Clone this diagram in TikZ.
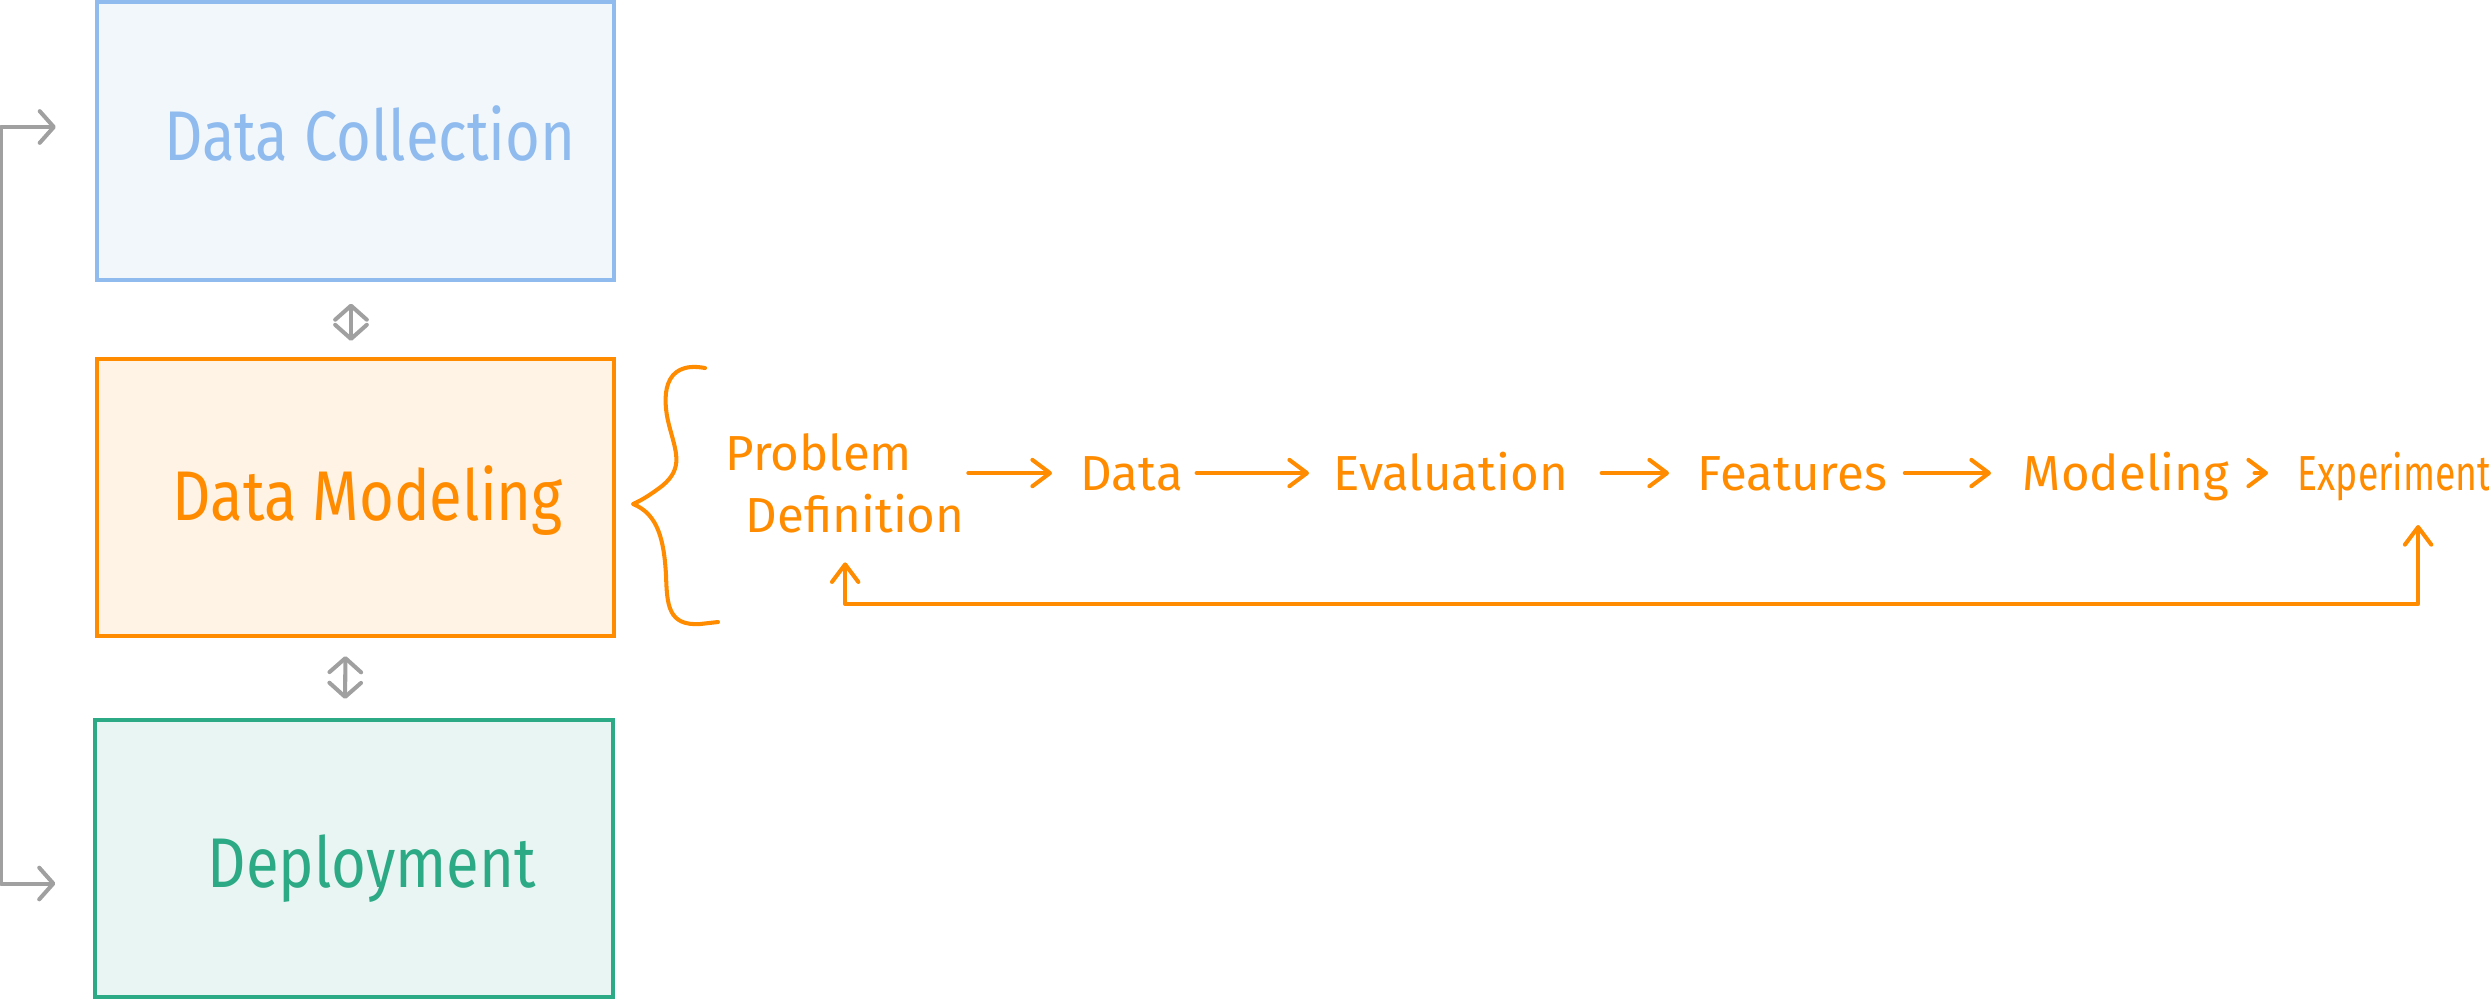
\documentclass[tikz,border=0pt]{standalone}
\usepackage{fontspec}
\setmainfont{Fira Sans}
\newfontfamily\boxfont{Fira Sans}[FakeStretch=0.85]
\newfontfamily\condfont{Fira Sans}[FakeStretch=0.76]
\usetikzlibrary{arrows.meta}
\definecolor{cblue}{RGB}{143,187,239}
\definecolor{cbluefill}{RGB}{242,247,252}
\definecolor{corange}{RGB}{255,140,0}
\definecolor{corangefill}{RGB}{255,243,230}
\definecolor{cgreen}{RGB}{43,170,133}
\definecolor{cgreenfill}{RGB}{233,245,242}
\definecolor{cgray}{RGB}{160,160,160}
\tikzset{
  otip/.tip={Straight Barb[length=5pt,width=7.5pt,line cap=round,line join=round]},
  gtip/.tip={Straight Barb[length=4pt,width=9pt,line cap=round,line join=round]},
}
\begin{document}
\begin{tikzpicture}[x=0.01cm,y=-0.01cm,
  stage/.style={draw, line width=1.15pt, minimum width=5.17cm, minimum height=2.77cm, inner sep=0pt},
  stagelabel/.style={font=\boxfont\fontsize{20pt}{24pt}\selectfont, inner sep=0pt, text height=13.8pt, text depth=0pt},
  flowtext/.style={text=corange, font=\fontsize{14pt}{17.6pt}\selectfont, inner sep=0pt, anchor=base west, text height=9.65pt, text depth=0pt},
  pdtext/.style={text=corange, font=\fontsize{14pt}{17.6pt}\selectfont, inner sep=0pt, anchor=base west, align=left},
  flow/.style={draw=corange, line width=1.15pt, line cap=round, line join=round, -{otip}},
  loopline/.style={draw=corange, line width=1.15pt, line cap=round, line join=round, {otip}-{otip}},
  grayconn/.style={draw=cgray, line width=1.15pt, line cap=round, line join=round, {gtip}-{gtip}},
  bracestroke/.style={draw=corange, line width=1.15pt, line cap=round, line join=round},
]
\useasboundingbox (0,0) rectangle (2489,999);

% stage boxes
\node[stage, draw=cblue, fill=cbluefill] (dc) at (355.5,141) {};
\node[stagelabel, text=cblue] (dcl) at (370,136) {Data Collection};
\node[stage, draw=corange, fill=corangefill] (dm) at (355.5,497.5) {};
\node[stagelabel, text=corange] (dml) at (368,496) {Data Modeling};
\node[stage, draw=cgreen, fill=cgreenfill] (dep) at (354,858.5) {};
\node[stagelabel, text=cgreen] (depl) at (372,863) {Deployment};

% gray connectors between stages
\draw[grayconn, shorten <=0.22cm, shorten >=0.16cm] ([xshift=-0.045cm]dc.south) -- ([xshift=-0.045cm]dm.north);
\draw[grayconn, shorten <=0.18cm, shorten >=0.19cm] ([xshift=-0.1cm]dm.south) -- ([xshift=-0.09cm]dep.north);
\draw[grayconn] ([shift={(-39,-14)}]dc.west) -- ++(-55,0) |- ([shift={(-38,25)}]dep.west);

% curly brace
\draw[bracestroke] (705,368) .. controls (662,360) and (662,398) .. (669,425)
  .. controls (676,452) and (684,468) .. (662,486)
  .. controls (650,495) and (642,500) .. (633,504)
  .. controls (658,514) and (664,540) .. (666,575)
  .. controls (667,605) and (668,626) .. (700,624)
  -- (718,622);

% flow
\node[pdtext] (pd) at (725,532) {Problem\\\hspace*{0.2cm}Definition};
\node[flowtext] (data) at (1080,490) {Data};
\node[flowtext] (eval) at (1333,490) {Evaluation};
\node[flowtext] (feat) at (1697,490) {Features};
\node[flowtext] (model) at (2022,490) {Modeling};
\node[flowtext, font=\condfont\fontsize{14pt}{17.6pt}\selectfont] (exp) at (2297,490) {Experiment};

\draw[flow, shorten <=0.03cm, shorten >=0.28cm] (pd.east |- data.center) -- (data.west);
\draw[flow, shorten <=0.13cm, shorten >=0.24cm] (data.east) -- (eval.west);
\draw[flow, shorten <=0.33cm, shorten >=0.28cm] (eval.east) -- (feat.west);
\draw[flow, shorten <=0.17cm, shorten >=0.31cm] (feat.east) -- (model.west);
\draw[flow, shorten <=0.25cm, shorten >=0.29cm] (model.east) -- (exp.west);

% feedback loop
\draw[loopline, shorten <=0.35cm, shorten >=0.29cm] ([xshift=1.21cm]exp.base west) -- ++(0,114) -| (pd.south);
\end{tikzpicture}
\end{document}
